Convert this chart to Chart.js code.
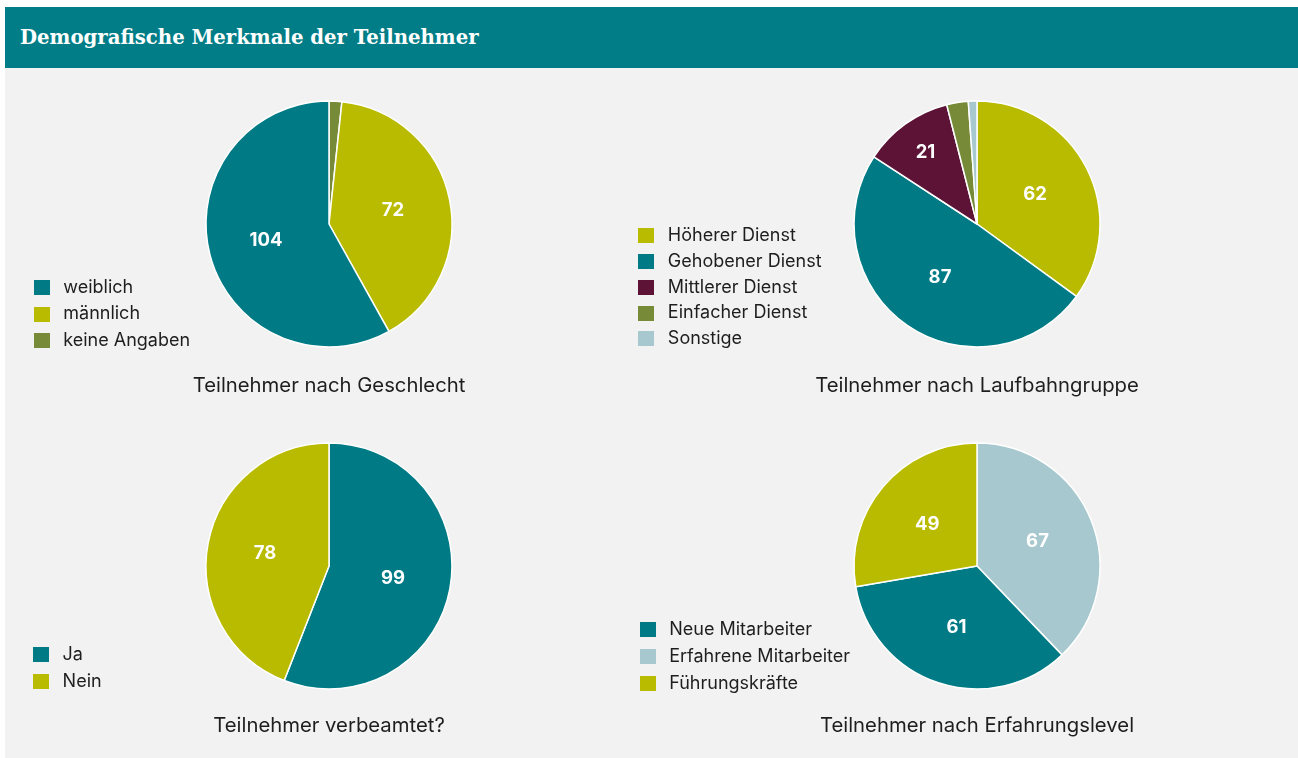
<!DOCTYPE html>
<html>
<head>
<meta charset="UTF-8">
<title>Demografische Merkmale der Teilnehmer</title>
<script src="https://cdn.jsdelivr.net/npm/chart.js@4.4.1/dist/chart.umd.min.js"></script>
<style>
  html, body { margin: 0; padding: 0; background: #fff; overflow: hidden; width: 1298px; height: 758px; }
  #seite { position: absolute; left: 5px; top: 7px; width: 1293px; height: 751px; background: #f2f2f2; }
  #kopf { position: absolute; left: 0; top: 0; width: 100%; height: 61px; background: #007d86; }
  #kopf h1 { margin: 0; padding-left: 15px; font: bold 19.7px "DejaVu Serif"; line-height: 61px; color: #fff; }
  canvas { position: absolute; }
</style>
</head>
<body>

<div id="seite">
  <div id="kopf"><h1>Demografische Merkmale der Teilnehmer</h1></div>
</div>

<script>
var teal = '#007b85', gelb = '#b9bb00', oliv = '#768a37', bordeaux = '#5c1336', hellblau = '#a6c8ce';

// Geschlecht
var geschlechtKategorien = ['keine Angaben', 'männlich', 'weiblich'];
var geschlechtWerte = [3, 72, 104];
var geschlechtLegende = ['weiblich', 'männlich', 'keine Angaben'];

// Laufbahngruppe
var laufbahnKategorien = ['Höherer Dienst', 'Gehobener Dienst', 'Mittlerer Dienst', 'Einfacher Dienst', 'Sonstige'];
var laufbahnWerte = [62, 87, 21, 5, 2];
var laufbahnLegende = ['Höherer Dienst', 'Gehobener Dienst', 'Mittlerer Dienst', 'Einfacher Dienst', 'Sonstige'];

// verbeamtet
var verbeamtetKategorien = ['Ja', 'Nein'];
var verbeamtetWerte = [99, 78];
var verbeamtetLegende = ['Ja', 'Nein'];

// Erfahrungslevel
var erfahrungKategorien = ['Erfahrene Mitarbeiter', 'Neue Mitarbeiter', 'Führungskräfte'];
var erfahrungWerte = [67, 61, 49];
var erfahrungLegende = ['Neue Mitarbeiter', 'Erfahrene Mitarbeiter', 'Führungskräfte'];

Chart.defaults.font.family = 'Inter';

var legendenSchrift = 18;
var titelSchrift = 20.3;

var zahlenPlugin = {
  id: 'zahlen',
  afterDatasetsDraw: function(chart) {
    var ctx = chart.ctx;
    var meta = chart.getDatasetMeta(0);
    var werte = chart.data.datasets[0].data;
    ctx.save();
    ctx.font = 'bold 18.5px Inter';
    ctx.fillStyle = '#fff';
    ctx.textAlign = 'center';
    ctx.textBaseline = 'middle';
    meta.data.forEach(function(arc, i) {
      var p = arc.getProps(['x', 'y', 'startAngle', 'endAngle', 'outerRadius'], true);
      var span = p.endAngle - p.startAngle;
      if (span < 0.3) return;
      var mitte = (p.startAngle + p.endAngle) / 2;
      var abstand = p.outerRadius * (span < 1.2 ? 0.72 : 0.53);
      ctx.fillText(String(werte[i]), p.x + Math.cos(mitte) * abstand, p.y + Math.sin(mitte) * abstand);
    });
    ctx.restore();
  }
};

// kleines Farbkaestchen fuer die Legende
function farbfeld(farbe) {
  var c = document.createElement('canvas');
  c.width = 16;
  c.height = 15;
  var g = c.getContext('2d');
  g.fillStyle = farbe;
  g.fillRect(0, 0, 16, 15);
  return c;
}

function kreis(kategorien, werte, farben, legende, titel, lage) {
  var boxBreite = 25;
  var bereichLinks = lage.boxX - (boxBreite - 16) / 2 - lage.abstand;
  var unten = lage.letzteBox + legendenSchrift / 2 + lage.abstand;
  var halb = unten - lage.cy;
  var bereichOben = lage.cy - halb;
  var links = Math.floor(bereichLinks);
  var oben = Math.floor(bereichOben);
  var breite = Math.round(2 * (lage.cx - links));
  var zeile = titelSchrift * 1.2;
  var titelOben = lage.titelY - unten - zeile / 2;
  var hoehe = Math.ceil(unten - oben + titelOben + zeile + 8);
  var titelUnten = hoehe - (unten - oben) - titelOben - zeile;

  var canvas = document.createElement('canvas');
  canvas.width = breite;
  canvas.height = hoehe;
  canvas.style.left = links + 'px';
  canvas.style.top = oben + 'px';
  document.body.appendChild(canvas);

  var gen = (Chart.overrides.pie || Chart.overrides.doughnut).plugins.legend.labels.generateLabels;

  return new Chart(canvas.getContext('2d'), {
    type: 'pie',
    data: {
      labels: kategorien,
      datasets: [{
        data: werte,
        backgroundColor: farben,
        borderColor: '#ffffff',
        borderWidth: 1.5,
        radius: 123
      }]
    },
    options: {
      responsive: false,
      animation: false,
      events: [],
      layout: { padding: { left: 0, right: 0, top: bereichOben - oben, bottom: 0 } },
      plugins: {
        tooltip: { enabled: false },
        legend: {
          position: 'chartArea',
          align: 'end',
          labels: {
            usePointStyle: true,
            pointStyleWidth: boxBreite,
            boxHeight: 15,
            padding: lage.abstand,
            color: '#1e1e1e',
            font: { family: 'Inter', size: legendenSchrift },
            sort: function(a, b) { return legende.indexOf(a.text) - legende.indexOf(b.text); },
            generateLabels: function(chart) {
              return gen(chart).map(function(l) {
                l.lineWidth = 0;
                l.pointStyle = farbfeld(l.fillStyle);
                return l;
              });
            }
          }
        },
        title: {
          display: true,
          text: titel,
          position: 'bottom',
          color: '#1e1e1e',
          font: { family: 'Inter', size: titelSchrift, weight: 'normal' },
          padding: { top: titelOben, bottom: titelUnten }
        }
      }
    },
    plugins: [zahlenPlugin]
  });
}

kreis(geschlechtKategorien, geschlechtWerte, [oliv, gelb, teal], geschlechtLegende,
  'Teilnehmer nach Geschlecht', { cx: 329, cy: 224, boxX: 34, letzteBox: 341, abstand: 8.25, titelY: 386 });

kreis(laufbahnKategorien, laufbahnWerte, [gelb, teal, bordeaux, oliv, hellblau], laufbahnLegende,
  'Teilnehmer nach Laufbahngruppe', { cx: 977, cy: 224, boxX: 639, letzteBox: 339, abstand: 7.85, titelY: 386 });

kreis(verbeamtetKategorien, verbeamtetWerte, [teal, gelb], verbeamtetLegende,
  'Teilnehmer verbeamtet?', { cx: 329, cy: 566, boxX: 34, letzteBox: 681.3, abstand: 8.6, titelY: 726 });

kreis(erfahrungKategorien, erfahrungWerte, [hellblau, teal, gelb], erfahrungLegende,
  'Teilnehmer nach Erfahrungslevel', { cx: 977, cy: 566, boxX: 640, letzteBox: 683.7, abstand: 9.2, titelY: 726 });
</script>
</body>
</html>
